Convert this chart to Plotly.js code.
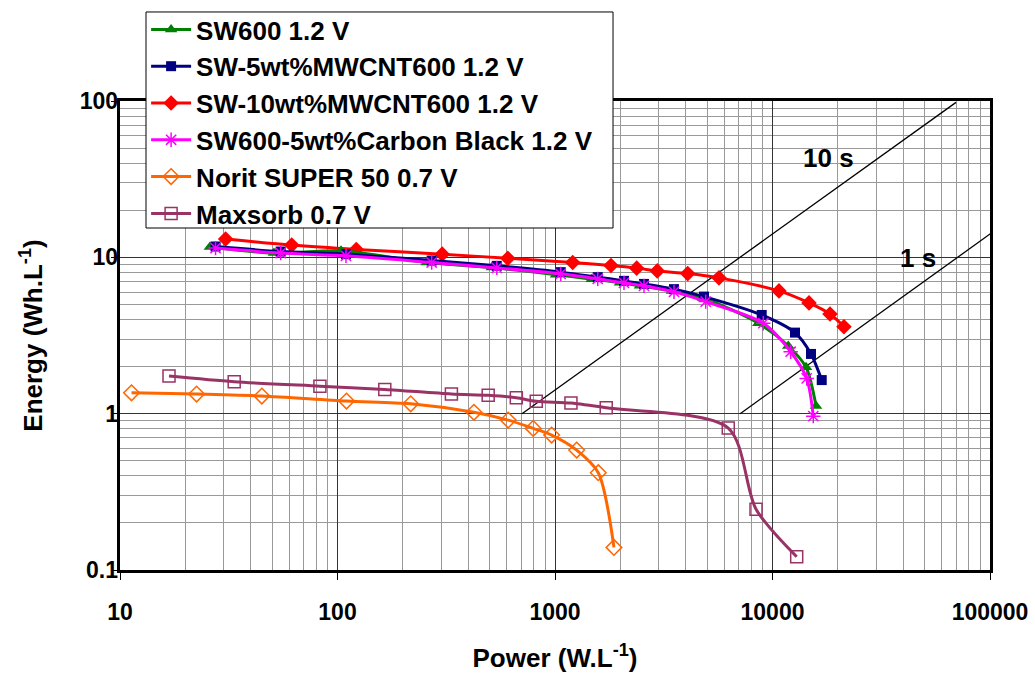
<!DOCTYPE html>
<html>
<head>
<meta charset="utf-8">
<script src="https://cdn.plot.ly/plotly-3.0.1.min.js"></script>
<style>html,body{margin:0;padding:0;background:#fff;}#chart{width:1035px;height:673px;}</style>
</head>
<body>
<div id="chart"></div>
<script>
// ---- data ----
const sw600Name = 'SW600 1.2 V';
const sw600P = [25.9, 51.0, 103.8, 257, 512, 1011, 1475, 1990, 2460, 3451, 4792, 8603, 11820, 14260, 15850];
const sw600E = [11.63, 10.64, 11.01, 9.26, 8.60, 7.75, 7.25, 6.89, 6.57, 6.10, 5.50, 3.79, 2.71, 1.98, 1.12];

const cnt5Name = 'SW-5wt%MWCNT600 1.2 V';
const cnt5P = [27.5, 54.8, 109.4, 271, 540, 1062, 1572, 2076, 2566, 3525, 4843, 8920, 12690, 15030, 16840];
const cnt5E = [11.73, 10.89, 10.48, 9.54, 8.82, 8.04, 7.47, 7.07, 6.76, 6.26, 5.61, 4.28, 3.30, 2.41, 1.64];

const cnt10Name = 'SW-10wt%MWCNT600 1.2 V';
const cnt10P = [30.6, 61.6, 122, 303, 607, 1206, 1809, 2375, 2953, 4075, 5675, 10710, 14720, 18380, 21310];
const cnt10E = [13.1, 11.97, 11.22, 10.48, 9.85, 9.26, 8.86, 8.53, 8.19, 7.87, 7.39, 6.10, 5.11, 4.34, 3.60];

const cbName = 'SW600-5wt%Carbon Black 1.2 V';
const cbP = [27.5, 54.8, 109.4, 271, 540, 1062, 1572, 2076, 2566, 3525, 4930, 9073, 12120, 14360, 15400];
const cbE = [11.46, 10.64, 10.22, 9.26, 8.56, 7.84, 7.28, 6.86, 6.57, 6.01, 5.21, 3.79, 2.49, 1.68, 0.964];

const noritName = 'Norit SUPER 50 0.7 V';
const noritP = [11.3, 22.5, 44.9, 110, 217, 424, 609, 794, 965, 1258, 1581, 1867];
const noritE = [1.36, 1.335, 1.296, 1.204, 1.157, 1.02, 0.91, 0.805, 0.73, 0.585, 0.419, 0.1395];

const maxName = 'Maxsorb 0.7 V';
const maxP = [16.8, 33.5, 83, 165, 334, 493, 664, 820, 1184, 1720, 6260, 8400, 12920];
const maxE = [1.74, 1.60, 1.50, 1.43, 1.335, 1.31, 1.264, 1.20, 1.169, 1.09, 0.809, 0.245, 0.1215];

// time-constant guide lines
const line10sP = [705, 69800];
const line10sE = [1, 98];
const line1sP = [7100, 105000];
const line1sE = [1, 14.8];
const label10sText = '10 s';
const label10sP = 18000;
const label10sE = 43.4;
const label1sText = '1 s';
const label1sP = 46700;
const label1sE = 9.93;

const xTickVals = [10, 100, 1000, 10000, 100000];
const xTickText = ['10', '100', '1000', '10000', '100000'];
const yTickVals = [0.1, 1, 10, 100];
const yTickText = ['0.1', '1', '10', '100'];

// ---- chart ----
const FONT = 'Liberation Sans, Arial, sans-serif';
function series(name, x, y, color, symbol, size, group, rank, lw) {
  return {
    type: 'scatter', mode: 'lines+markers', name: name, x: x, y: y,
    legendgroup: group, legendrank: rank,
    line: {color: color, width: 3, shape: 'spline', smoothing: 0.8},
    marker: {symbol: symbol, size: size, color: color, line: {color: color, width: lw}},
    cliponaxis: false
  };
}
const traces = [
  {type: 'scatter', mode: 'lines', x: line10sP, y: line10sE, showlegend: false, hoverinfo: 'skip',
   line: {color: '#000', width: 1.3}},
  {type: 'scatter', mode: 'lines', x: line1sP, y: line1sE, showlegend: false, hoverinfo: 'skip',
   line: {color: '#000', width: 1.3}},
  series(maxName, maxP, maxE, '#993366', 'square-open', 12, 'g6', 6, 1.5),
  series(noritName, noritP, noritE, '#FF6600', 'diamond-open', 12, 'g5', 5, 1.5),
  series(cnt10Name, cnt10P, cnt10E, '#FF0000', 'diamond', 12, 'g3', 3, 0),
  series(sw600Name, sw600P, sw600E, '#008000', 'triangle-up', 11, 'g1', 1, 0),
  series(cnt5Name, cnt5P, cnt5E, '#000080', 'square', 10, 'g2', 2, 0),
  series(cbName, cbP, cbE, '#FF00FF', 'asterisk-open', 12, 'g4', 4, 1.5),
  // invisible trace that carries the tick-label overlay axis
  {type: 'scatter', mode: 'markers', x: xTickVals.slice(0, 1), y: yTickVals.slice(0, 1), yaxis: 'y2',
   showlegend: false, hoverinfo: 'skip', marker: {opacity: 0}}
];

const tickFont = {family: FONT, size: 23, color: '#000', weight: 'bold'};
const bigFont = {family: FONT, size: 26, color: '#000', weight: 'bold'};

const axisCommon = {
  type: 'log', showline: true, mirror: true, linecolor: '#000', linewidth: 3,
  showgrid: true, gridcolor: '#333', gridwidth: 1,
  ticks: 'outside', ticklen: 6, tickwidth: 1, tickcolor: '#000',
  tickmode: 'array', zeroline: false,
  tickfont: tickFont,
  minor: {showgrid: true, gridcolor: '#999', gridwidth: 1, dtick: 'D1', ticks: ''}
};

const layout = {
  width: 1035, height: 673,
  margin: {l: 120, r: 45, t: 101, b: 103, autoexpand: false},
  paper_bgcolor: '#fff', plot_bgcolor: '#fff',
  showlegend: true,
  xaxis: Object.assign({}, axisCommon, {
    range: [1, 5], tickvals: xTickVals, ticktext: xTickText, ticklen: 7,
    ticklabelstandoff: 12,
    title: {text: 'Power (W.L<sup>-1</sup>)', font: bigFont, standoff: 28}
  }),
  yaxis: Object.assign({}, axisCommon, {
    range: [-1, 2], tickvals: yTickVals, ticktext: yTickText,
    showticklabels: false,
    title: {text: 'Energy (Wh.L<sup>-1</sup>)', font: bigFont, standoff: 61}
  }),
  yaxis2: {
    type: 'log', overlaying: 'y', side: 'left', anchor: 'x', range: [-1, 2],
    tickmode: 'array', tickvals: yTickVals, ticktext: yTickText,
    showgrid: false, zeroline: false, showline: false, ticks: '', ticklen: 0,
    ticklabelstandoff: 1, tickfont: tickFont
  },
  legend: {
    x: 0.03, y: 1.2026, xanchor: 'left', yanchor: 'top',
    bgcolor: 'rgba(0,0,0,0)', borderwidth: 0,
    font: bigFont,
    itemwidth: 40, traceorder: 'normal'
  },
  shapes: [
    {type: 'rect', xref: 'paper', yref: 'paper', x0: 0.0299, x1: 0.5667, y0: 0.7292, y1: 1.1898,
     fillcolor: '#fff', line: {color: '#000', width: 1}, layer: 'above'}
  ],
  annotations: [
    {x: Math.log10(label10sP), y: Math.log10(label10sE), xref: 'x', yref: 'y', text: label10sText, showarrow: false,
     font: bigFont},
    {x: Math.log10(label1sP), y: Math.log10(label1sE), xref: 'x', yref: 'y', text: label1sText, showarrow: false,
     font: bigFont}
  ]
};

Plotly.newPlot('chart', traces, layout, {displayModeBar: false, staticPlot: true});
</script>
</body>
</html>
